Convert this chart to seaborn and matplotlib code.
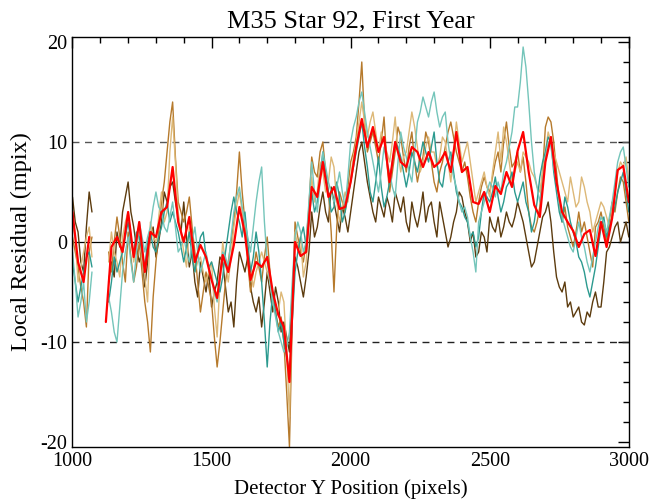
import numpy as np
import pandas as pd
import seaborn as sns
import matplotlib
matplotlib.use("Agg")
import matplotlib.pyplot as plt
from matplotlib.ticker import MultipleLocator

nan = np.nan

# detector Y positions: every 10 px for the single exposures, every 20 px for the mean
y_fine = np.arange(1000, 3001, 10)
y_mean = np.arange(1000, 3001, 20)

# local residuals (mpix) per exposure; one row = 100 px
dark_brown = [
    4.5, 2.0, 1.0, -2.0, -3.0, 1.5, 5.0, 3.0, nan, nan,
    nan, nan, nan, -4.0, -2.0, -3.5, 1.0, -0.5, 3.0, 4.5,
    6.0, 3.0, 1.5, -0.5, -2.0, -1.0, -4.5, -2.0, 0.5, 1.5,
    -1.5, 0.0, 2.0, 5.0, 4.0, 5.5, 6.0, 4.0, 2.5, 1.0,
    4.0, 0.5, -2.5, -1.0, -4.0, -5.5, -2.0, -3.5, -5.0, -3.0,
    -6.5, -5.0, -4.0, -1.5, -2.0, -4.5, -7.0, -6.0, -8.5, -4.0,
    -1.0, -2.0, -3.0, -1.5, -4.5, -6.0, -7.0, -5.5, -8.5, -6.0,
    -3.0, -5.0, -7.0, -4.5, -6.0, -9.0, -8.0, -9.5, -11.0, -5.0,
    -1.5, -2.5, -4.0, -5.5, -3.5, -1.0, 3.0, 0.5, 1.5, 3.5,
    5.0, 3.0, 2.0, 5.5, 4.0, 2.5, 1.0, 3.5, 2.5, 1.0,
    3.0, 5.0, 7.0, 9.0, 10.0, 8.0, 6.0, 4.5, 3.0, 2.0,
    4.5, 3.5, 2.5, 4.5, 3.5, 2.0, 5.0, 4.0, 3.0, 4.5,
    2.0, 1.0, 4.0, 2.5, 1.5, 3.0, 5.0, 2.0, 3.5, 4.0,
    2.0, 0.5, 4.0, 2.5, 1.0, -0.5, 0.5, 2.0, 3.0, 5.0,
    4.5, 3.0, 2.0, 0.0, 1.0, -1.5, -1.0, 1.0, 0.5, -1.0,
    2.5, 1.5, 1.0, 2.5, 0.5, 1.5, 3.0, 2.0, 1.5, 2.5,
    4.0, 3.0, 2.0, 0.5, -1.0, -2.5, -2.0, -0.5, 1.0, 2.5,
    3.0, 4.0, 2.0, -1.0, -3.5, -4.5, -5.0, -4.0, -6.5, -6.0,
    -7.5, -7.0, -6.5, -8.0, -8.3, -7.0, -7.5, -6.0, -5.0, -6.5,
    -6.5, -4.0, -1.0, -0.5, 0.5, 1.5, 2.0, 0.0, 1.0, 2.0,
    0.5,
]
mid_brown = [
    0.5, -1.0, -2.5, -4.5, -6.0, -8.5, -1.0, 0.5, nan, nan,
    nan, nan, nan, -1.0, -3.0, 0.0, 2.5, 0.5, -2.0, -4.0,
    1.0, -1.5, -4.0, -2.5, 0.0, -3.0, -6.0, -8.0, -11.0, -5.5,
    -2.0, 1.0, 4.0, 6.0, 9.0, 12.0, 14.0, 8.5, 4.0, 3.0,
    2.0, 3.0, 4.5, 1.5, -1.0, -4.0, -7.0, -5.0, -3.0, -4.5,
    -6.0, -9.5, -12.5, -10.0, -7.0, -4.0, -2.0, 0.0, 2.0, 5.0,
    9.0, 5.0, 2.0, -2.0, -5.0, -3.0, -1.0, -2.5, -4.0, -1.5,
    0.5, -3.0, -6.0, -7.0, -8.5, -7.5, -10.0, -15.0, -20.5, -8.0,
    2.0, 0.5, -1.0, -2.0, 0.0, 3.5, 8.5, 7.0, 6.5, 9.0,
    10.0, 7.0, 5.0, 1.0, -5.0, 1.5, 5.0, 4.0, 3.0, 5.5,
    8.0, 9.0, 10.5, 14.0, 18.0, 12.0, 9.0, 10.0, 11.0, 9.5,
    8.0, 10.0, 12.5, 8.0, 5.0, 7.0, 9.0, 11.5, 10.5, 8.5,
    7.0, 9.5, 11.0, 8.0, 6.0, 7.5, 8.5, 11.0, 10.0, 8.0,
    6.0, 5.0, 7.0, 8.0, 9.5, 11.0, 12.0, 10.5, 9.0, 8.0,
    7.0, 8.0, 6.5, 4.5, 3.0, 2.0, 4.0, 5.5, 6.5, 5.5,
    5.0, 6.5, 8.0, 9.0, 7.0, 10.0, 12.0, 9.5, 7.5, 8.0,
    9.0, 7.0, 8.5, 6.0, 3.0, 1.5, 1.0, 2.0, 3.5, 7.0,
    11.5, 12.5, 12.0, 10.0, 7.0, 4.0, 2.0, 3.5, 1.5, 0.5,
    -0.5, 1.0, 3.0, 1.0, 2.0, 0.5, -1.0, -2.5, 1.5, 2.0,
    3.0, 1.5, 0.0, 2.0, 4.0, 3.0, 5.0, 6.5, 6.0, 4.0,
    2.0,
]
light_tan = [
    2.0, 0.5, -4.0, -2.5, -1.0, 0.5, 1.5, -1.5, nan, nan,
    nan, nan, nan, -2.0, 1.0, -1.0, -2.0, -3.5, 0.5, 2.0,
    3.0, 0.5, -2.0, -0.5, 1.0, -1.5, -3.5, -6.0, 2.0, 0.5,
    0.0, 2.5, 5.0, 2.0, 3.0, 9.0, 12.5, 8.0, 3.0, 1.0,
    -1.0, -2.5, 1.5, -0.5, -3.0, -2.0, -1.5, -3.0, -4.0, -3.0,
    -2.0, -6.5, -9.5, -4.0, 0.0, -2.0, -4.0, -1.5, 1.5, 3.5,
    5.0, 3.0, 1.0, -1.0, -2.5, -4.5, -3.0, -2.0, -1.0, -2.0,
    -3.0, -4.0, -5.5, -6.5, -7.0, -5.0, -6.0, -11.0, -17.5, -6.0,
    1.0, -0.5, 0.5, -3.5, -2.0, 2.0, 6.5, 4.0, 5.0, 8.0,
    7.0, 5.0, 6.0, 8.5, 7.5, 4.0, 2.0, 3.5, 5.0, 4.0,
    6.5, 8.5, 10.0, 12.0, 14.0, 12.0, 10.5, 12.0, 13.0, 11.0,
    9.0, 11.0, 10.0, 9.0, 8.0, 10.0, 12.5, 9.0, 7.0, 8.5,
    9.0, 11.0, 13.0, 11.5, 9.5, 7.0, 8.0, 9.5, 10.5, 9.0,
    9.0, 7.5, 8.5, 10.5, 10.0, 8.0, 6.0, 9.0, 12.0, 10.0,
    8.0, 9.0, 10.0, 8.0, 6.0, 4.0, 5.0, 6.0, 7.0, 5.5,
    4.5, 7.0, 9.0, 11.0, 8.0, 11.5, 10.0, 8.0, 6.0, 7.0,
    8.0, 7.0, 9.0, 8.5, 8.0, 7.0, 6.5, 5.5, 5.0, 7.0,
    9.0, 11.0, 10.0, 9.0, 8.0, 7.0, 6.0, 5.0, 4.0, 6.5,
    5.0, 3.5, 4.0, 6.5, 5.5, 4.0, 3.0, 1.0, 2.0, 3.0,
    4.0, 3.5, 2.5, 1.5, 3.0, 5.0, 7.0, 8.0, 7.5, 8.5,
    6.0,
]
teal = [
    -2.0, -4.0, -6.0, -4.5, -3.0, -1.5, -1.0, -2.5, nan, nan,
    nan, nan, nan, -6.0, -4.0, -1.5, -3.0, -2.0, -1.0, 0.5,
    2.0, 0.0, -1.0, 1.0, 0.5, -1.0, -2.5, 0.0, 1.0, -0.5,
    -1.0, 0.5, 1.5, 3.0, 4.0, 2.0, 3.0, 2.0, 1.0, -0.5,
    -2.0, -0.5, 1.0, -1.5, -3.0, -1.0, 0.5, 1.0, -1.5, -2.5,
    -2.0, -3.0, -4.0, -5.0, -3.5, -1.0, 1.0, 3.0, 4.5, 3.0,
    2.0, 0.5, 3.0, 0.0, -3.0, -1.5, 1.0, -1.0, -4.0, -8.0,
    -12.5, -8.0, -5.0, -7.0, -9.0, -8.0, -10.0, -11.5, -13.0, -8.0,
    -3.0, -1.0, 0.5, 1.5, -0.5, 2.0, 5.0, 3.0, 4.0, 6.5,
    9.0, 7.0, 5.0, 3.0, 3.5, 6.0, 4.5, 2.0, 3.0, 4.5,
    6.0, 7.5, 9.0, 10.5, 12.0, 9.5, 7.5, 5.0, 4.0, 6.0,
    8.5, 5.5, 3.5, 4.5, 6.0, 8.0, 10.0, 9.5, 8.5, 7.0,
    5.5, 7.0, 9.0, 8.0, 7.0, 8.5, 10.0, 9.0, 8.0, 9.5,
    11.0, 8.0, 6.0, 5.5, 7.5, 8.0, 9.0, 7.0, 5.0, 4.0,
    3.5, 2.5, 2.0, 0.5, 1.0, -0.5, 0.5, 3.0, 5.0, 4.5,
    4.0, 5.0, 6.5, 4.5, 3.0, 4.0, 5.5, 6.0, 7.0, 5.0,
    4.0, 5.0, 6.0, 4.0, 3.0, 1.0, 2.0, 4.0, 6.5, 8.0,
    9.0, 10.5, 10.0, 7.0, 5.0, 3.0, 2.0, 4.5, 3.5, 2.0,
    1.0, 0.0, -1.5, -2.0, -3.0, -4.5, -5.5, -4.0, -2.5, -0.5,
    1.5, 2.5, 0.5, 1.5, 2.5, 3.5, 5.0, 6.0, 7.0, 5.0,
    3.0,
]
light_teal = [
    -1.0, -4.0, -7.5, -6.0, -4.0, -8.0, -6.0, -3.0, nan, nan,
    nan, nan, nan, -5.5, -7.0, -9.0, -10.0, -6.5, -3.0, -1.0,
    0.5, -2.0, -4.0, -1.0, 2.0, 0.5, -1.0, 0.5, 1.5, 3.5,
    5.0, 3.5, 3.0, 1.5, 1.0, 2.5, 4.0, 1.5, -1.0, -0.5,
    0.5, -1.0, -2.0, 0.0, 1.5, -1.0, -3.0, -2.0, -1.0, -2.5,
    -3.5, -5.0, -6.0, -3.5, -1.0, -1.5, -2.5, 0.5, 3.0, 4.5,
    5.5, 3.5, 2.0, 0.5, -1.0, 1.5, 4.0, 6.0, 7.5, 2.0,
    -2.0, -4.0, -6.0, -7.5, -9.0, -10.0, -11.0, -10.5, -9.0, -4.0,
    0.5, 2.0, 1.0, -1.0, 0.0, 4.0, 8.0, 5.0, 3.0, 6.0,
    9.0, 7.5, 6.0, 5.0, 4.0, 5.5, 7.0, 5.0, 3.5, 6.5,
    10.0, 11.5, 12.5, 14.0, 15.0, 13.0, 11.0, 9.5, 8.0, 6.5,
    5.0, 7.0, 9.5, 8.0, 7.0, 5.5, 4.5, 8.0, 11.0, 9.5,
    8.5, 7.0, 6.0, 9.0, 12.0, 13.0, 14.5, 13.5, 12.5, 14.0,
    15.0, 13.0, 11.5, 12.5, 13.0, 10.0, 8.0, 6.5, 5.5, 4.0,
    3.0, 3.5, 2.5, 0.5, -1.0, -3.0, 2.0, 3.0, 4.0, 5.0,
    6.0, 5.5, 4.5, 6.0, 5.0, 7.0, 8.0, 9.5, 11.0, 13.5,
    13.5, 16.0, 19.5, 17.5, 14.0, 10.0, 7.0, 5.5, 4.0, 6.0,
    8.5, 10.0, 9.5, 7.5, 6.0, 4.0, 2.5, 1.5, 0.5, -0.5,
    -1.0, 0.5, 2.0, 0.5, -0.5, -2.0, -3.0, -1.5, 0.0, 1.5,
    2.5, 2.0, 1.0, 2.5, 4.0, 6.0, 8.0, 9.0, 9.5, 7.5,
    5.5,
]
# mean residual (red), one row = 200 px
mean_resid = [
    3.0, -2.0, -4.0, 0.5, nan, nan, -8.0, -0.5, 0.5, -1.0,
    3.0, -1.5, 2.0, -3.0, 1.0, 0.5, 3.0, 3.5, 7.5, 2.0,
    0.0, 2.5, -2.0, -0.3, -1.5, -3.8, -5.6, -1.3, -3.0, -0.3,
    3.5, 0.8, -3.8, -2.0, -2.5, -1.5, -5.0, -7.3, -8.5, -14.0,
    0.0, -1.4, -1.0, 5.5, 4.5, 8.0, 4.5, 5.5, 3.3, 3.5,
    6.0, 9.5, 12.3, 9.5, 11.5, 9.0, 10.5, 6.0, 10.0, 8.0,
    7.5, 9.5, 9.0, 7.5, 9.0, 7.5, 8.0, 9.0, 7.0, 11.0,
    7.0, 7.5, 4.0, 3.8, 5.0, 3.0, 5.6, 4.8, 7.0, 5.5,
    9.1, 11.0, 7.0, 3.7, 2.5, 8.0, 10.5, 6.0, 3.0, 2.0,
    1.1, -0.5, 0.8, 1.2, -1.4, 2.0, -0.5, 2.4, 7.2, 7.6,
    4.0,
]

series_names = ["dark_brown", "mid_brown", "light_tan", "teal", "light_teal"]
series_vals = [dark_brown, mid_brown, light_tan, teal, light_teal]
palette = {
    "dark_brown": "#5c3b0e",
    "mid_brown": "#b67a2c",
    "light_tan": "#ddb877",
    "teal": "#2c9a8f",
    "light_teal": "#74c5ba",
    "mean": "#ff0000",
}


def to_long(name, xs, vals):
    """Long-form frame; NaNs split the line into separate segments."""
    vals = np.asarray(vals, dtype=float)
    seg = np.cumsum(np.isnan(vals))
    df = pd.DataFrame({"y_pos": xs, "resid": vals, "seg": seg, "series": name})
    return df.dropna()


thin = pd.concat([to_long(n, y_fine, v) for n, v in zip(series_names, series_vals)],
                 ignore_index=True)
mean_df = to_long("mean", y_mean, mean_resid)

sns.set_style("white")
plt.rcParams["font.family"] = ["Liberation Serif", "DejaVu Serif"]
plt.rcParams["text.color"] = "black"
plt.rcParams["axes.labelcolor"] = "black"
plt.rcParams["xtick.color"] = "black"
plt.rcParams["ytick.color"] = "black"

fig = plt.figure(figsize=(6.53, 5.0), dpi=100)
ax = fig.add_axes([0.111, 0.106, 0.852, 0.82])

ax.axhline(0, color="black", lw=0.9, zorder=1)
ax.axhline(10, color="#555555", lw=1.0, ls=(0, (5, 4)), zorder=1)
ax.axhline(-10, color="#222222", lw=1.0, ls=(0, (5, 4)), zorder=1)

sns.lineplot(data=thin, x="y_pos", y="resid", hue="series", units="seg",
             estimator=None, palette=palette, lw=1.0, legend=False, ax=ax,
             hue_order=series_names)
sns.lineplot(data=mean_df, x="y_pos", y="resid", units="seg",
             estimator=None, color=palette["mean"], lw=1.6, legend=False, ax=ax)

ax.set_xlim(1000, 3000)
ax.set_ylim(-20.5, 20.5)
ax.xaxis.set_major_locator(MultipleLocator(500))
ax.xaxis.set_minor_locator(MultipleLocator(100))
ax.yaxis.set_major_locator(MultipleLocator(10))
ax.yaxis.set_minor_locator(MultipleLocator(2))
ax.tick_params(which="both", direction="in", top=True, right=True, labelsize=14.5)
ax.tick_params(which="major", length=8, width=1)
ax.tick_params(which="minor", length=4, width=1)
ax.set_yticks([-20, -10, 0, 10, 20])
ax.set_yticklabels(["-20", "-10", "0", "10", "20"])
for s in ax.spines.values():
    s.set_color("black")
    s.set_linewidth(1.0)

ax.set_title("M35 Star 92, First Year", fontsize=19, pad=7)
ax.set_xlabel("Detector Y Position (pixels)", fontsize=15, labelpad=6)
ax.set_ylabel("Local Residual (mpix)", fontsize=17.5, labelpad=6)

fig.savefig("out.png", dpi=100)
